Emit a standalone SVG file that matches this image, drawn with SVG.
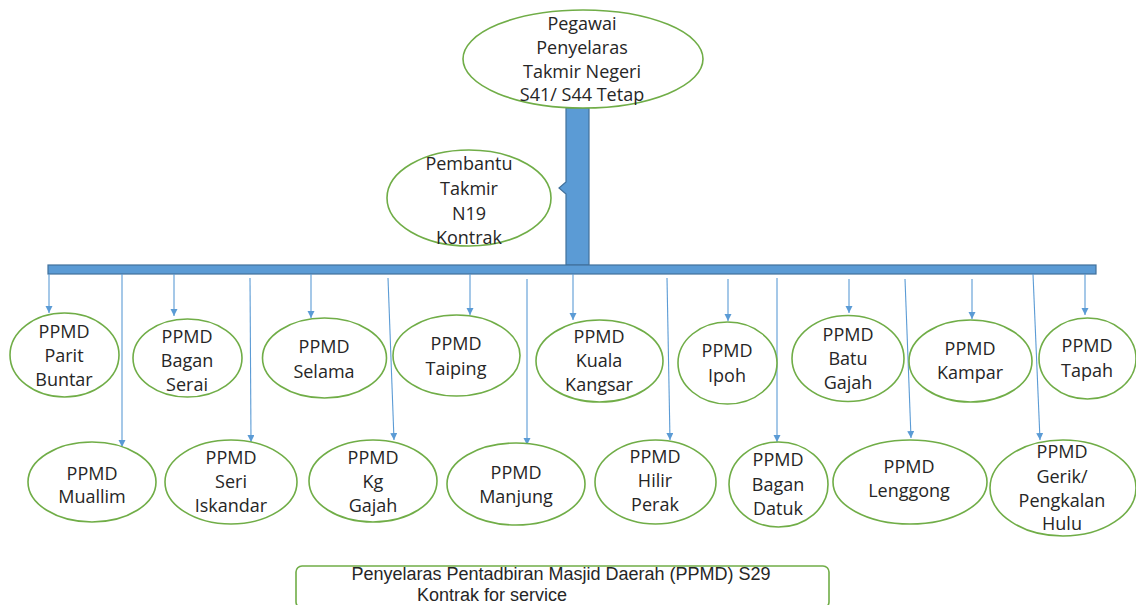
<svg xmlns="http://www.w3.org/2000/svg" width="1136" height="605" viewBox="0 0 1136 605">
<defs>
<style>
.n ellipse{fill:#fff;stroke:#70AD47;stroke-width:1.6}
text{font-family:"Open Sans","Liberation Sans",sans-serif;font-size:18px;fill:#262626;text-anchor:middle}
.lg text{font-family:"Liberation Sans","Open Sans",sans-serif;font-size:18px}
.c line{stroke:#5B9BD5;stroke-width:1.1}
.bar{fill:#5B9BD5;stroke:#41719C;stroke-width:1.2}
</style>
<marker id="ah" markerWidth="8" markerHeight="8" refX="7" refY="3.5" orient="auto" markerUnits="userSpaceOnUse">
<path d="M0,0 L7,3.5 L0,7 z" fill="#5B9BD5"/>
</marker>
</defs>
<rect width="1136" height="605" fill="#fff"/>

<g id="trunk">
<path class="bar" d="M566,108 H589 V265 H566 V194 L559,188 L566,182 Z"/>
<rect class="bar" x="48" y="265" width="1048" height="9"/>
</g>

<g class="c" id="connectors" marker-end="url(#ah)">
<line x1="49" y1="274" x2="49" y2="313"/>
<line x1="122" y1="274" x2="122" y2="447"/>
<line x1="174" y1="274" x2="174" y2="316"/>
<line x1="250" y1="278" x2="251" y2="442"/>
<line x1="311" y1="274" x2="311" y2="318"/>
<line x1="388" y1="278" x2="394" y2="440"/>
<line x1="470" y1="274" x2="470" y2="315"/>
<line x1="527" y1="279" x2="527" y2="445"/>
<line x1="573" y1="274" x2="573" y2="320"/>
<line x1="667" y1="278" x2="670" y2="440"/>
<line x1="728" y1="279" x2="728" y2="321"/>
<line x1="777" y1="278" x2="777" y2="442"/>
<line x1="849" y1="279" x2="849" y2="313"/>
<line x1="905" y1="279" x2="911" y2="438"/>
<line x1="972" y1="279" x2="972" y2="319"/>
<line x1="1033" y1="274" x2="1040" y2="440"/>
<line x1="1085" y1="274" x2="1085" y2="315"/>
</g>

<g class="n" id="pegawai">
<ellipse cx="583" cy="59" rx="120" ry="49"/>
<text x="582" y="30">Pegawai</text>
<text x="582" y="54">Penyelaras</text>
<text x="582" y="78">Takmir Negeri</text>
<text x="582" y="101">S41/ S44 Tetap</text>
</g>

<g class="n" id="pembantu">
<ellipse cx="469" cy="198" rx="82" ry="48"/>
<text x="469" y="170">Pembantu</text>
<text x="469" y="195">Takmir</text>
<text x="469" y="220">N19</text>
<text x="469" y="244">Kontrak</text>
</g>

<g class="n" id="parit-buntar">
<ellipse cx="64.5" cy="355" rx="54.5" ry="42"/>
<text x="64" y="338">PPMD</text>
<text x="64" y="362">Parit</text>
<text x="64" y="386">Buntar</text>
</g>

<g class="n" id="muallim">
<ellipse cx="92" cy="482" rx="64" ry="40"/>
<text x="92" y="480">PPMD</text>
<text x="92" y="503">Muallim</text>
</g>

<g class="n" id="bagan-serai">
<ellipse cx="187.5" cy="358" rx="54.5" ry="39"/>
<text x="187" y="343">PPMD</text>
<text x="187" y="367">Bagan</text>
<text x="187" y="391">Serai</text>
</g>

<g class="n" id="seri-iskandar">
<ellipse cx="231" cy="482" rx="66" ry="42"/>
<text x="231" y="464">PPMD</text>
<text x="231" y="488">Seri</text>
<text x="231" y="512">Iskandar</text>
</g>

<g class="n" id="selama">
<ellipse cx="324.5" cy="358" rx="62" ry="40"/>
<text x="324" y="353">PPMD</text>
<text x="324" y="378">Selama</text>
</g>

<g class="n" id="kg-gajah">
<ellipse cx="373" cy="481" rx="64" ry="41"/>
<text x="373" y="464">PPMD</text>
<text x="373" y="488">Kg</text>
<text x="373" y="512">Gajah</text>
</g>

<g class="n" id="taiping">
<ellipse cx="456.5" cy="355.5" rx="63.5" ry="40.5"/>
<text x="456" y="350">PPMD</text>
<text x="456" y="375">Taiping</text>
</g>

<g class="n" id="manjung">
<ellipse cx="516" cy="484" rx="69" ry="41"/>
<text x="516" y="479">PPMD</text>
<text x="516" y="503">Manjung</text>
</g>

<g class="n" id="kuala-kangsar">
<ellipse cx="599.5" cy="361" rx="63.5" ry="41"/>
<text x="599" y="343">PPMD</text>
<text x="599" y="367">Kuala</text>
<text x="599" y="391">Kangsar</text>
</g>

<g class="n" id="hilir-perak">
<ellipse cx="655.5" cy="482" rx="60.5" ry="42"/>
<text x="655" y="463">PPMD</text>
<text x="655" y="487">Hilir</text>
<text x="655" y="511">Perak</text>
</g>

<g class="n" id="ipoh">
<ellipse cx="727.5" cy="363" rx="49.5" ry="41"/>
<text x="727" y="357">PPMD</text>
<text x="727" y="382">Ipoh</text>
</g>

<g class="n" id="bagan-datuk">
<ellipse cx="778.5" cy="484.5" rx="49.5" ry="42.5"/>
<text x="778" y="466">PPMD</text>
<text x="778" y="491">Bagan</text>
<text x="778" y="515">Datuk</text>
</g>

<g class="n" id="batu-gajah">
<ellipse cx="848" cy="358.5" rx="56" ry="43"/>
<text x="848" y="341">PPMD</text>
<text x="848" y="365">Batu</text>
<text x="848" y="389">Gajah</text>
</g>

<g class="n" id="lenggong">
<ellipse cx="910" cy="482" rx="77" ry="42"/>
<text x="909" y="473">PPMD</text>
<text x="909" y="497">Lenggong</text>
</g>

<g class="n" id="kampar">
<ellipse cx="970.5" cy="361" rx="61.5" ry="41"/>
<text x="970" y="355">PPMD</text>
<text x="970" y="379">Kampar</text>
</g>

<g class="n" id="gerik">
<ellipse cx="1063" cy="488" rx="73" ry="48"/>
<text x="1062" y="458">PPMD</text>
<text x="1062" y="483">Gerik/</text>
<text x="1062" y="507">Pengkalan</text>
<text x="1062" y="530">Hulu</text>
</g>

<g class="n" id="tapah">
<ellipse cx="1087.5" cy="358.5" rx="48.5" ry="40.5"/>
<text x="1087" y="352">PPMD</text>
<text x="1087" y="377">Tapah</text>
</g>

<g id="legend" class="lg">
<rect x="296" y="566" width="533" height="42" rx="6" fill="#fff" stroke="#70AD47" stroke-width="1.6"/>
<text x="561" y="580">Penyelaras Pentadbiran Masjid Daerah (PPMD) S29</text>
<text x="492" y="601">Kontrak for service</text>
</g>
</svg>
